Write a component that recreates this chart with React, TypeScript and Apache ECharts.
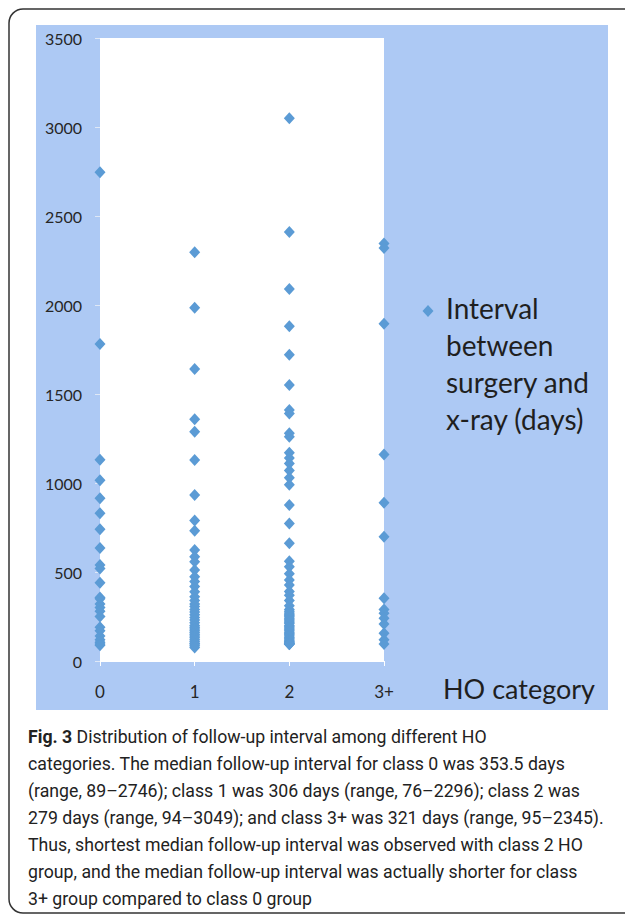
import React, { useEffect, useRef } from "react";
import * as echarts from "echarts";

const categories = ["0", "1", "2", "3+"];
const class0 = [2746, 1781, 1130, 1015, 915, 830, 740, 635, 540, 520, 440, 357, 350, 320, 300, 280, 250, 190, 170, 140, 120, 105, 95, 89];
const class1 = [2296, 1985, 1640, 1358, 1288, 1129, 933, 790, 732, 624, 586, 558, 511, 474, 446, 418, 389, 361, 340, 320, 306, 290, 275, 260, 245, 230, 215, 200, 190, 180, 170, 160, 150, 140, 130, 120, 110, 100, 95, 85, 76];
const class2 = [3049, 2410, 2090, 1880, 1720, 1550, 1410, 1390, 1280, 1260, 1170, 1140, 1110, 1070, 1030, 990, 876, 773, 661, 560, 530, 490, 455, 427, 390, 370, 340, 310, 290, 279, 270, 262, 255, 248, 240, 232, 225, 218, 210, 200, 192, 185, 178, 170, 162, 155, 148, 140, 132, 125, 118, 112, 108, 104, 100, 98, 96, 95, 94];
const class3 = [2345, 2320, 1895, 1160, 889, 698, 352, 290, 268, 240, 208, 156, 120, 95];
const classes = [class0, class1, class2, class3];
const yMin = 0;
const yMax = 3500;
const yStep = 500;
const seriesName = "Interval between surgery and x-ray (days)";
const legendLines = ["Interval", "between", "surgery and", "x-ray (days)"];
const xAxisTitle = "HO category";
const captionBold = "Fig. 3";
const captionLines = [
  " Distribution of follow-up interval among different HO",
  "categories. The median follow-up interval for class 0 was 353.5 days",
  "(range, 89–2746); class 1 was 306 days (range, 76–2296); class 2 was",
  "279 days (range, 94–3049); and class 3+ was 321 days (range, 95–2345).",
  "Thus, shortest median follow-up interval was observed with class 2 HO",
  "group, and the median follow-up interval was actually shorter for class",
  "3+ group compared to class 0 group",
];

const BLUE_BG = "#adc9f4";
const MARK = "#5b9bd5";
const TEXT = "#262626";

export default function App() {
  const ref = useRef<HTMLDivElement>(null);
  useEffect(() => {
    const chart = echarts.init(ref.current!, null, { renderer: "svg" });
    const data: number[][] = [];
    classes.forEach((arr, i) => arr.forEach((v) => data.push([i, v])));
    const caption =
      "{b|" + captionBold + "}" + captionLines[0] + "\n" + captionLines.slice(1).join("\n");
    chart.setOption({
      animation: false,
      backgroundColor: "#ffffff",
      grid: {
        left: 100,
        top: 38,
        width: 284,
        height: 623,
        show: true,
        backgroundColor: "#ffffff",
        borderWidth: 0,
        z: 1,
      },
      xAxis: {
        type: "value",
        min: 0,
        max: categories.length - 1,
        interval: 1,
        axisLine: { show: true, onZero: false, lineStyle: { color: "#ffffff", width: 1 } },
        axisTick: { show: true, length: 5, lineStyle: { color: "#ffffff" } },
        splitLine: { show: false },
        axisLabel: {
          formatter: (v: number) => categories[v] ?? "",
          fontSize: 17,
          color: TEXT,
          fontFamily: "Lato",
          margin: 22,
        },
      },
      yAxis: {
        type: "value",
        min: yMin,
        max: yMax,
        interval: yStep,
        axisLine: { show: false },
        axisTick: { show: true, length: 5, lineStyle: { color: "#dfe8f6" } },
        splitLine: { show: true, lineStyle: { color: "#f2f2f2", width: 1 } },
        axisLabel: {
          formatter: (v: number) => String(v),
          fontSize: 16,
          color: TEXT,
          fontFamily: "Lato",
          margin: 18,
        },
      },
      series: [
        {
          name: seriesName,
          type: "scatter",
          symbol: "diamond",
          symbolSize: [11, 12],
          clip: false,
          z: 5,
          itemStyle: { color: MARK, opacity: 1 },
          data,
        },
      ],
      graphic: [
        {
          type: "rect",
          z: -20,
          silent: true,
          shape: { x: 9, y: 9, width: 660, height: 904, r: 14 },
          style: { fill: "#ffffff", stroke: "#333333", lineWidth: 1.5 },
        },
        {
          type: "rect",
          z: -10,
          silent: true,
          shape: { x: 36, y: 25, width: 572, height: 685 },
          style: { fill: BLUE_BG },
        },
        {
          type: "polygon",
          z: 10,
          shape: { points: [[428, 305], [433.5, 311], [428, 317], [422.5, 311]] },
          style: { fill: MARK },
        },
        {
          type: "text",
          z: 10,
          x: 446,
          y: 289,
          style: {
            text: legendLines.join("\n"),
            fontSize: 28,
            lineHeight: 37,
            fontFamily: "Lato",
            fill: "#1f1f1f",
            verticalAlign: "top",
          },
        },
        {
          type: "text",
          z: 10,
          x: 443,
          y: 688,
          style: {
            text: xAxisTitle,
            fontSize: 27,
            fontFamily: "Lato",
            fill: "#1f1f1f",
            verticalAlign: "middle",
          },
        },
        {
          type: "text",
          z: 10,
          x: 28,
          y: 723.5,
          style: {
            text: caption,
            fontSize: 17.7,
            lineHeight: 27,
            fontFamily: "Roboto",
            fill: "#222222",
            verticalAlign: "top",
            rich: {
              b: { fontSize: 17.7, lineHeight: 27, fontFamily: "Roboto", fontWeight: "bold", fill: "#222222" },
            },
          },
        },
      ],
    });
    return () => chart.dispose();
  }, []);
  return (
    <div
      ref={ref}
      style={{ position: "absolute", left: 0, top: 0, width: 625, height: 915 }}
    />
  );
}
